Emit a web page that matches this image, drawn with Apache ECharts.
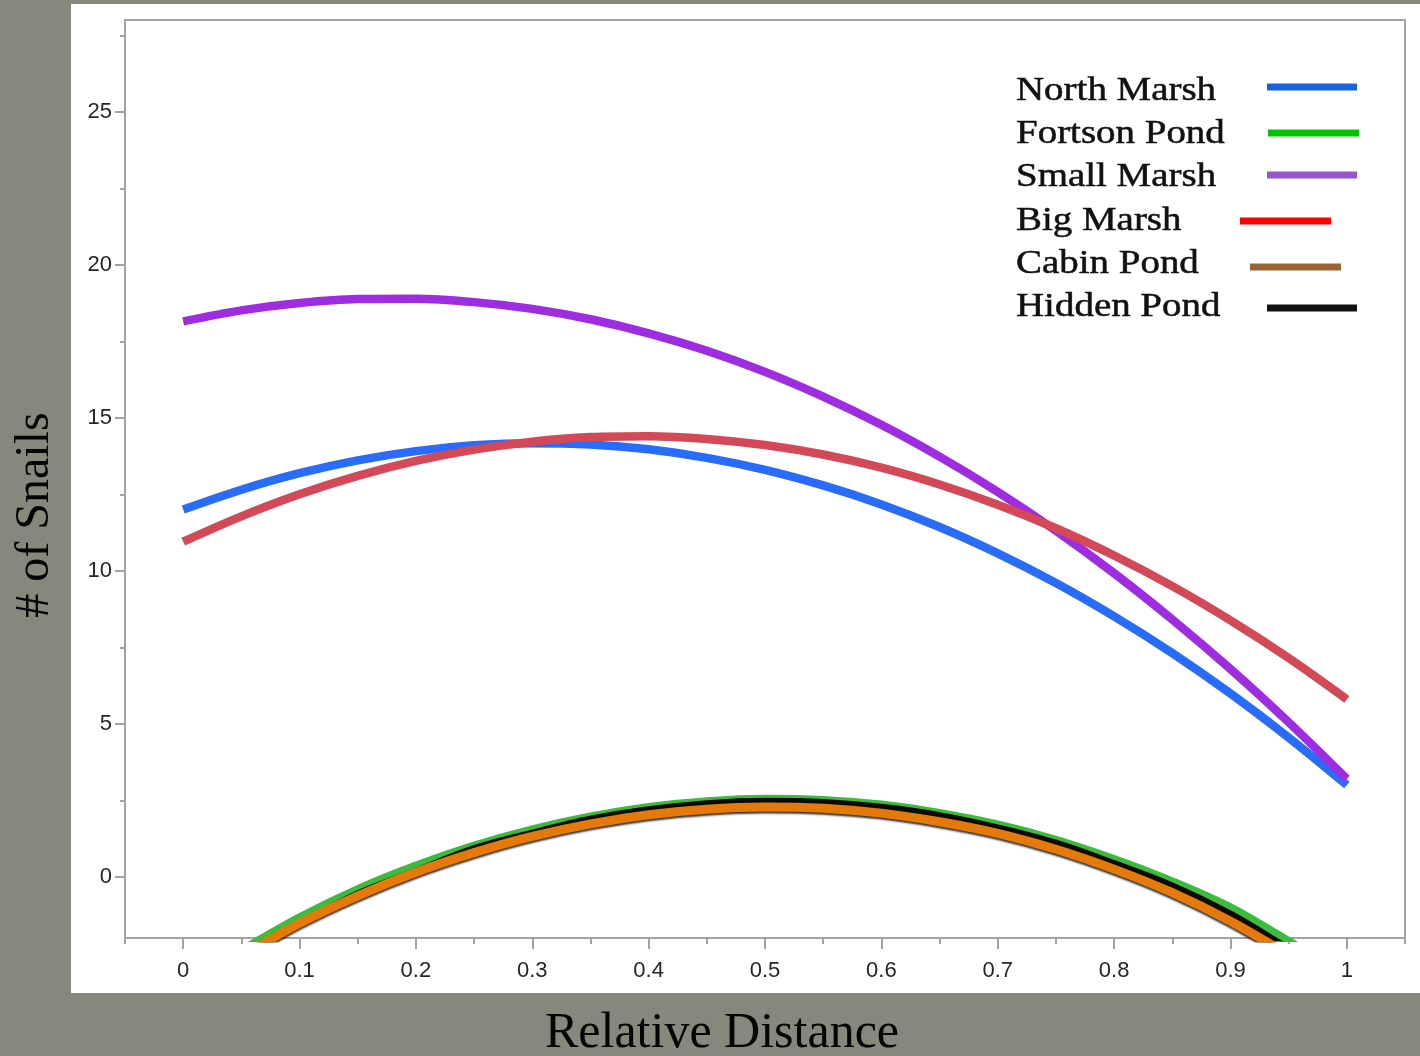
<!DOCTYPE html>
<html>
<head>
<meta charset="utf-8">
<title># of Snails vs Relative Distance</title>
<script src="https://cdn.jsdelivr.net/npm/echarts@6/dist/echarts.min.js"></script>
<style>
  html, body { margin: 0; padding: 0; background: #86887c; }
  #wrap { position: relative; width: 1420px; height: 1056px; overflow: hidden; }
  #panel { position: absolute; left: 71px; top: 4px; width: 1349px; height: 989px; background: #ffffff; }
  #chart { position: absolute; left: 0; top: 0; width: 1420px; height: 1056px; }
</style>
</head>
<body>
<div id="wrap">
  <div id="panel"></div>
  <div id="chart"></div>
</div>
<script>
// Relative distance along the transect
const distance = [0, 0.05, 0.1, 0.15, 0.2, 0.25, 0.3, 0.35, 0.4, 0.45, 0.5,
                  0.55, 0.6, 0.65, 0.7, 0.75, 0.8, 0.85, 0.9, 0.95, 1];

// Fitted snail counts per site
const northMarsh  = [12.0, 12.65, 13.19, 13.61, 13.91, 14.1, 14.17, 14.13, 13.97, 13.69, 13.3,
                     12.79, 12.17, 11.43, 10.57, 9.6, 8.51, 7.31, 5.99, 4.55, 3.0];
const fortsonPond = [-3.5, -2.4, -1.32, -0.4, 0.37, 1.02, 1.55, 1.97, 2.28, 2.47, 2.55,
                     2.51, 2.36, 2.09, 1.71, 1.21, 0.58, -0.15, -1.0, -2.1, -3.2];
const smallMarsh  = [18.15, 18.51, 18.75, 18.88, 18.89, 18.78, 18.56, 18.22, 17.76, 17.19, 16.5,
                     15.69, 14.77, 13.73, 12.58, 11.31, 9.92, 8.41, 6.79, 5.05, 3.2];
const bigMarsh    = [10.95, 11.78, 12.5, 13.1, 13.59, 13.96, 14.22, 14.37, 14.4, 14.31, 14.11,
                     13.8, 13.37, 12.82, 12.16, 11.39, 10.5, 9.5, 8.38, 7.15, 5.8];
const cabinPond   = [-3.7, -2.6, -1.52, -0.62, 0.15, 0.79, 1.32, 1.73, 2.03, 2.21, 2.28,
                     2.24, 2.08, 1.8, 1.42, 0.9, 0.25, -0.52, -1.45, -2.55, -3.7];
const hiddenPond  = [-3.75, -2.6, -1.55, -0.56, 0.18, 0.92, 1.43, 1.88, 2.19, 2.39, 2.47,
                     2.43, 2.27, 2.0, 1.6, 1.1, 0.43, -0.3, -1.22, -2.35, -3.45];

const siteNames = ['North Marsh', 'Fortson Pond', 'Small Marsh', 'Big Marsh', 'Cabin Pond', 'Hidden Pond'];
const siteValues = [northMarsh, fortsonPond, smallMarsh, bigMarsh, cabinPond, hiddenPond];

// Axis ticks and labels
const xMajorTicks = [0, 0.1, 0.2, 0.3, 0.4, 0.5, 0.6, 0.7, 0.8, 0.9, 1];
const xMinorTicks = [-0.05, 0.05, 0.15, 0.25, 0.35, 0.45, 0.55, 0.65, 0.75, 0.85, 0.95, 1.05];
const yMajorTicks = [0, 5, 10, 15, 20, 25];
const yMinorTicks = [2.5, 7.5, 12.5, 17.5, 22.5, 27.5];

const xTitle = 'Relative Distance';
const yTitle = '# of Snails';

// ---- styling ----
const lineColors = ['#296bfb', '#3cbc3c', '#9e2ce0', '#d44957', '#e57a0a', '#0a0a0a'];
const lineWidths = [8.5, 8, 8.5, 8.5, 9, 7];
const lineZ = [5, 2, 5, 5, 4, 3];
const legendColors = ['#1a63dd', '#00c400', '#9955cc', '#ff0000', '#9a6532', '#111111'];
// legend swatch layout: [x1, x2, y] per row
const legendSwatchLayout = [
  [1267, 1357, 87], [1268, 1359, 133], [1267, 1357, 175],
  [1240, 1331, 221], [1250, 1341, 267], [1267, 1357, 308]
];
const legendTextY = [91, 134, 177, 221, 264, 307];

const axisGrey = '#a3a3a3';
const tickFont = { fontFamily: '"Liberation Sans", Arial, sans-serif', fontSize: 22, color: '#262626' };

const chart = echarts.init(document.getElementById('chart'), null, { renderer: 'canvas' });

const series = siteNames.map((name, i) => ({
  name: name,
  type: 'line',
  xAxisIndex: 0,
  yAxisIndex: 0,
  data: distance.map((d, k) => [d, siteValues[i][k]]),
  smooth: 0.35,
  symbol: 'none',
  z: lineZ[i],
  clip: true,
  lineStyle: Object.assign(
    { color: lineColors[i], width: lineWidths[i], cap: 'butt', join: 'round' },
    name === 'Cabin Pond' ? { shadowColor: 'rgba(0,0,0,0.8)', shadowBlur: 2, shadowOffsetY: 2 } : {}
  ),
  emphasis: { disabled: true },
  silent: true
}));

const legendGraphics = [];
siteNames.forEach((name, i) => {
  const [x1, x2, y] = legendSwatchLayout[i];
  legendGraphics.push({
    type: 'text',
    x: 1016, y: legendTextY[i],
    scaleX: 1.18,
    style: {
      text: name,
      font: '33px "Liberation Serif", "Times New Roman", serif',
      fill: '#111111',
      stroke: '#111111',
      lineWidth: 0.5,
      align: 'left',
      verticalAlign: 'middle'
    }
  });
  legendGraphics.push({
    type: 'line',
    shape: { x1: x1, y1: y, x2: x2, y2: y },
    style: { stroke: legendColors[i], lineWidth: 7 }
  });
});

const option = {
  backgroundColor: 'transparent',
  animation: false,
  grid: {
    left: 125, top: 20, right: 15, bottom: 118,
    show: true, borderColor: axisGrey, borderWidth: 2, backgroundColor: 'transparent',
    containLabel: false, outerBoundsMode: 'none'
  },
  xAxis: [
    {
      type: 'value', position: 'bottom', min: -0.05, max: 1.05,
      axisLine: { show: true, onZero: false, lineStyle: { color: axisGrey, width: 2 } },
      axisTick: { show: true, customValues: xMajorTicks, length: 11, lineStyle: { color: axisGrey, width: 2 } },
      axisLabel: Object.assign({ show: true, customValues: xMajorTicks, margin: 22 }, tickFont),
      splitLine: { show: false }
    },
    {
      type: 'value', position: 'bottom', min: -0.05, max: 1.05,
      axisLine: { show: false, onZero: false },
      axisTick: { show: true, customValues: xMinorTicks, length: 6, lineStyle: { color: axisGrey, width: 2 } },
      axisLabel: { show: false },
      splitLine: { show: false }
    }
  ],
  yAxis: [
    {
      type: 'value', position: 'left', min: -2, max: 28,
      axisLine: { show: true, onZero: false, lineStyle: { color: axisGrey, width: 2 } },
      axisTick: { show: true, customValues: yMajorTicks, length: 10, lineStyle: { color: axisGrey, width: 2 } },
      axisLabel: Object.assign({ show: true, customValues: yMajorTicks, margin: 13 }, tickFont),
      splitLine: { show: false }
    },
    {
      type: 'value', position: 'left', min: -2, max: 28,
      axisLine: { show: false, onZero: false },
      axisTick: { show: true, customValues: yMinorTicks, length: 5, lineStyle: { color: axisGrey, width: 2 } },
      axisLabel: { show: false },
      splitLine: { show: false }
    }
  ],
  graphic: [
    {
      type: 'text',
      x: 722, y: 1034,
      style: {
        text: xTitle,
        font: '50px "Liberation Serif", "Times New Roman", serif',
        fill: '#050505', align: 'center', verticalAlign: 'middle'
      }
    },
    {
      type: 'text',
      x: 35, y: 515,
      rotation: Math.PI / 2,
      style: {
        text: yTitle,
        font: '48px "Liberation Serif", "Times New Roman", serif',
        fill: '#050505', align: 'center', verticalAlign: 'middle'
      }
    }
  ].concat(legendGraphics),
  series: series
};

chart.setOption(option);
</script>
</body>
</html>
